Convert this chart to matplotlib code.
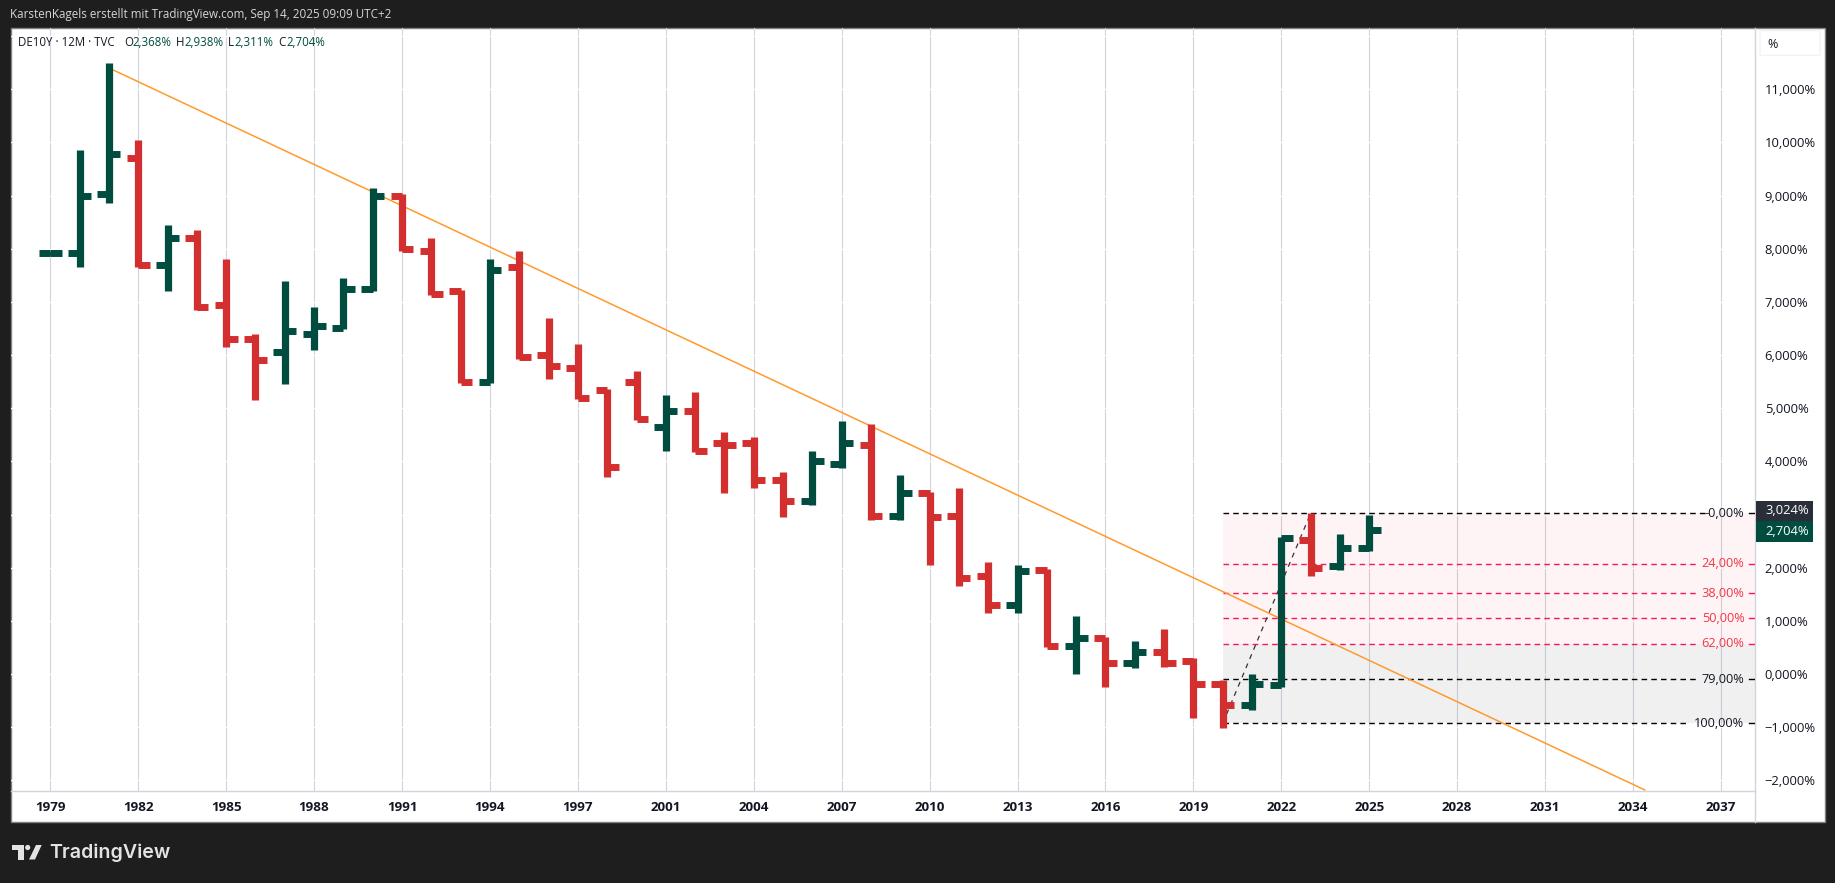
import matplotlib
matplotlib.use("Agg")
from matplotlib import pyplot as plt
from matplotlib.patches import Rectangle, Circle, Polygon, FancyBboxPatch
from matplotlib.lines import Line2D
import numpy as np

plt.rcParams['font.family'] = ['Open Sans', 'DejaVu Sans']

W, H = 1835, 883

# yearly bars (percent)
opens = [7.91, 7.91, 9.03, 9.70, 7.70, 8.20, 6.95, 6.30, 6.05, 6.40, 6.50, 7.25,
         9.00, 7.95, 7.20, 5.50, 7.65, 6.00, 5.75, 5.35, 5.50, 4.65, 4.95, 4.35,
         4.35, 3.65, 3.25, 3.95, 4.30, 2.97, 3.40, 2.98, 1.85, 1.30, 1.95, 0.52,
         0.67, 0.20, 0.42, 0.25, -0.18, -0.58, -0.20, 2.52, 2.03, 2.368]
highs = [7.94, 9.85, 11.50, 10.05, 8.45, 8.35, 7.80, 6.40, 7.40, 6.90, 7.45, 9.15,
         9.02, 8.20, 7.22, 7.80, 7.95, 6.70, 6.20, 5.37, 5.70, 5.25, 5.30, 4.55,
         4.45, 3.80, 4.20, 4.75, 4.70, 3.75, 3.42, 3.50, 2.10, 2.05, 1.97, 1.10,
         0.70, 0.62, 0.85, 0.30, -0.12, 0.00, 2.57, 3.02, 2.63, 3.00]
lows = [7.88, 7.65, 8.85, 7.65, 7.20, 6.85, 6.15, 5.15, 5.45, 6.10, 6.48, 7.20,
        7.95, 7.13, 5.48, 5.48, 5.93, 5.55, 5.18, 3.70, 4.78, 4.20, 4.18, 3.40,
        3.50, 2.95, 3.18, 3.88, 2.90, 2.90, 2.05, 1.65, 1.15, 1.15, 0.50, 0.00,
        -0.25, 0.12, 0.13, -0.82, -1.02, -0.68, -0.25, 1.84, 1.95, 2.311]
closes = [7.91, 9.00, 9.78, 7.70, 8.20, 6.90, 6.30, 5.90, 6.45, 6.55, 7.25, 9.00,
          8.00, 7.15, 5.50, 7.60, 5.97, 5.80, 5.20, 3.90, 4.80, 4.95, 4.20, 4.30,
          3.65, 3.25, 4.00, 4.35, 2.97, 3.40, 2.95, 1.80, 1.30, 1.93, 0.52, 0.67,
          0.20, 0.42, 0.20, -0.18, -0.58, -0.18, 2.55, 2.00, 2.37, 2.704]

year_labels = ["1979", "1982", "1985", "1988", "1991", "1994", "1997", "2001", "2004", "2007",
               "2010", "2013", "2016", "2019", "2022", "2025", "2028", "2031", "2034", "2037"]
year_ticks = [3 * i for i in range(len(year_labels))]
y_ticks = [-2, -1, 0, 1, 2, 3, 4, 5, 6, 7, 8, 9, 10, 11, 12]
y_labels = ["\u22122,000%", "\u22121,000%", "0,000%", "1,000%", "2,000%", "", "4,000%", "5,000%",
            "6,000%", "7,000%", "8,000%", "9,000%", "10,000%", "11,000%", ""]

trend_x = [2.15, 54.4]
trend_y = [11.36, -2.18]
fib_x = [40, 43]
fib_y = [-0.93, 3.024]
fib_levels = [0, 24, 38, 50, 62, 79, 100]
fib_names = ["-0,00%", "24,00%", "38,00%", "50,00%", "62,00%", "79,00%", "100,00%"]
fib_colors = ["#131722", "#f23645", "#f23645", "#f23645", "#f23645", "#131722", "#131722"]
fib_gap = [56.6, 56.2, 56.2, 56.2, 56.2, 56.2, 55.9]

GREEN = "#004d40"
RED = "#d32f2f"
DARK = "#1e1e1e"
TEXT = "#131722"
GRID = "#d1d4dc"

fig = plt.figure(figsize=(W / 100, H / 100), dpi=100, facecolor=DARK)


def fx(x):
    return x / W


def fy(y):
    return 1 - y / H


def px_text(x, y, s, **kw):
    fig.text(fx(x), fy(y), s, va="center", **kw)


def px_rect(x0, y0, x1, y1, **kw):
    fig.add_artist(Rectangle((fx(x0), fy(y1)), fx(x1 - x0), (y1 - y0) / H,
                             transform=fig.transFigure, **kw))


# white panel behind the axes
px_rect(10.5, 27.5, 1825, 822, facecolor="white", edgecolor="#808080", linewidth=1, zorder=-5)

ax = fig.add_axes([fx(10.5), fy(791), fx(1755 - 10.5), (791 - 27.5) / H])
ax.patch.set_alpha(0)
ax.set_xlim(-1.358, 58.16)
ax.set_ylim(-2.20, 12.16)

ax.set_axisbelow(True)
ax.grid(axis="x", color=GRID, linewidth=0.8)
ax.grid(axis="y", color="white", linewidth=1.0)
ax.set_xticks(year_ticks)
ax.set_xticklabels(year_labels, fontsize=9.6, fontweight="bold", color=TEXT)
ax.yaxis.tick_right()
ax.set_yticks(y_ticks)
ax.set_yticklabels(y_labels, fontsize=9.4, color=TEXT)
ax.tick_params(axis="x", length=0, pad=7)
ax.tick_params(axis="y", length=0, pad=7)
for side in ["top", "left"]:
    ax.spines[side].set_visible(False)
for side in ["bottom", "right"]:
    ax.spines[side].set_color(GRID)
    ax.spines[side].set_linewidth(1.0)

# fib bands and levels
xmax = ax.get_xlim()[1]
span = fib_y[1] - fib_y[0]
fib_vals = [fib_y[1] - span * lv / 100 for lv in fib_levels]
ax.fill_between([fib_x[0], xmax], fib_vals[4], fib_vals[0], color="#f23645", alpha=0.05, linewidth=0, zorder=2)
ax.fill_between([fib_x[0], xmax], fib_vals[6], fib_vals[4], color="#787b86", alpha=0.11, linewidth=0, zorder=2)
for val, name, col, gap in zip(fib_vals, fib_names, fib_colors, fib_gap):
    line_col = "#f7185c" if col != TEXT else "black"
    ax.plot([fib_x[0], gap], [val, val], color=line_col, linewidth=1.0, dashes=(4, 3), zorder=3)
    ax.plot([57.95, xmax], [val, val], color=line_col, linewidth=1.0, zorder=3)
    ax.text(57.8, val, name, ha="right", va="center", fontsize=9.2, color=col, zorder=4)

ax.plot(fib_x, fib_y, color="#333333", linewidth=0.9, dashes=(4, 4), zorder=3)
ax.plot(trend_x, trend_y, color="#ff9a2e", linewidth=1.1, zorder=3)

# the bars
xs = np.arange(len(opens))
cols = [GREEN if c >= o else RED for o, c in zip(opens, closes)]
stems = ax.vlines(xs, lows, highs, colors=cols, linewidth=5.2, zorder=5)
stems.set_capstyle("butt")
left = ax.hlines(opens, xs - 0.39, xs, colors=cols, linewidth=5.0, zorder=5)
left.set_capstyle("butt")
right = ax.hlines(closes, xs, xs + 0.39, colors=cols, linewidth=5.0, zorder=5)
right.set_capstyle("butt")

# right scale extras
fig.add_artist(Line2D([fx(1755), fx(1755)], [fy(791), fy(822)], color=GRID, linewidth=1.0))
px_rect(1756, 501, 1813, 521, facecolor="#2a2e39", edgecolor="none", zorder=6)
px_rect(1756, 521, 1813, 542, facecolor=GREEN, edgecolor="none", zorder=6)
px_text(1765, 511, "3,024%", color="white", fontsize=9.4, zorder=7)
px_text(1765, 531.5, "2,704%", color="white", fontsize=9.4, zorder=7)
fig.add_artist(FancyBboxPatch((fx(1761), fy(55)), fx(58), 24 / H, transform=fig.transFigure,
                              boxstyle="round,pad=0.0005", facecolor="white", edgecolor="#f0f3fa", linewidth=1))
px_text(1767, 44, "%", color=TEXT, fontsize=9)

# header texts
px_text(9.5, 14.5, "KarstenKagels erstellt mit TradingView.com, Sep 14, 2025 09:09 UTC+2",
        color="#d6d6d6", fontsize=8.4)
px_text(18, 42, "DE10Y \u00b7 12M \u00b7 TVC", color=TEXT, fontsize=8.3)
px_text(124.5, 42, "O", color=TEXT, fontsize=8.3)
px_text(132.5, 42, "2,368%", color=GREEN, fontsize=8.3)
px_text(176, 42, "H", color=TEXT, fontsize=8.3)
px_text(184, 42, "2,938%", color=GREEN, fontsize=8.3)
px_text(228, 42, "L", color=TEXT, fontsize=8.3)
px_text(234, 42, "2,311%", color=GREEN, fontsize=8.3)
px_text(278, 42, "C", color=TEXT, fontsize=8.3)
px_text(286, 42, "2,704%", color=GREEN, fontsize=8.3)

# TradingView logo
LOGO = "#e3e3e3"
aspect = [(12, 845), (23.5, 845), (23.5, 859.5), (17.5, 859.5), (17.5, 849.5), (12, 849.5)]
slant = [(36, 845), (41.7, 845), (35, 859.5), (29, 859.5)]
for pts in (aspect, slant):
    fig.add_artist(Polygon([(fx(a), fy(b)) for a, b in pts], closed=True, transform=fig.transFigure,
                           facecolor=LOGO, edgecolor="none"))
fig.add_artist(Circle((27.7, H - 847.5), 2.6, transform=None, facecolor=LOGO, edgecolor="none"))
fig.text(fx(49), fy(852.5), "TradingView", color=LOGO, fontsize=14.1, fontweight="semibold",
         family=["Inter", "DejaVu Sans"], va="center")

fig.savefig("out.png", dpi=100, facecolor=DARK)
